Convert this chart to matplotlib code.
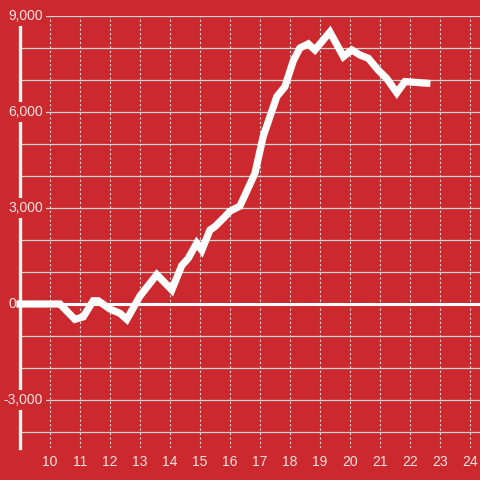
import matplotlib
matplotlib.use("Agg")
import matplotlib.pyplot as plt

# time of day (hours) and cumulative value
hours = [9.0, 10.33, 10.83, 11.11, 11.44, 11.61, 12.0, 12.33, 12.56, 13.0,
         13.56, 14.06, 14.39, 14.61, 14.89, 15.06, 15.33, 15.5, 15.83, 16.0,
         16.33, 16.83, 17.11, 17.56, 17.83, 18.11, 18.33, 18.61, 18.83, 19.33,
         19.78, 20.06, 20.33, 20.61, 20.94, 21.22, 21.56, 21.83, 22.56]
values = [0, 0, -480, -400, 100, 100, -160, -290, -480, 250,
          920, 440, 1200, 1430, 1900, 1680, 2310, 2420, 2730, 2900,
          3060, 4080, 5250, 6480, 6790, 7600, 8000, 8130, 7940, 8500,
          7730, 7940, 7780, 7680, 7310, 7050, 6600, 6950, 6900]

x_ticks = list(range(10, 25))
y_grid = list(range(-4000, 9001, 1000))
y_label_vals = [9000, 6000, 3000, 0, -3000]
y_label_txt = ["9,000", "6,000", "3,000", "0", "-3,000"]

RED = "#CC292E"
TXT = "#f5e4e4"
GRID = "#d2d2d2"

plt.rcParams['font.family'] = ['Liberation Sans', 'DejaVu Sans']

fig = plt.figure(figsize=(4.8, 4.8), dpi=100, facecolor=RED)
ax = fig.add_axes([20/480, 32/480, 460/480, 432/480])
ax.set_facecolor(RED)
ax.set_xlim(9, 24.333)
ax.set_ylim(-4500, 9000)

for s in ['top', 'right', 'bottom']:
    ax.spines[s].set_visible(False)
ax.spines['left'].set_color('#f4f4f4')
ax.spines['left'].set_linewidth(2.4)
ax.spines['left'].set_zorder(3)

for g in y_grid:
    ax.axhline(g, color=GRID, lw=0.9, zorder=1)
for t in x_ticks:
    ax.axvline(t, color=GRID, lw=0.8, linestyle=(0, (2, 2)), zorder=1)

ax.axhline(0, color='white', lw=2.2, zorder=2)
ax.plot(hours, values, color='white', lw=5.2, zorder=4,
        solid_joinstyle='miter', solid_capstyle='projecting', clip_on=False)

ax.set_xticks(x_ticks)
ax.set_xticklabels([str(t) for t in x_ticks])
ax.tick_params(axis='x', length=0, pad=5, labelsize=10, labelcolor=TXT)
ax.set_yticks([])

ytr = ax.get_yaxis_transform()
for v, t in zip(y_label_vals, y_label_txt):
    if v == 0:
        ax.text(-0.0087, v, t, transform=ytr, ha='right', va='center',
                fontsize=10, color=TXT, zorder=5)
    else:
        ax.text(0.05, v, t, transform=ytr, ha='right', va='center',
                fontsize=10, color=TXT, zorder=5,
                bbox=dict(boxstyle='square,pad=0.2', fc=RED, ec='none'))

fig.savefig("out.png", dpi=100, facecolor=RED)
